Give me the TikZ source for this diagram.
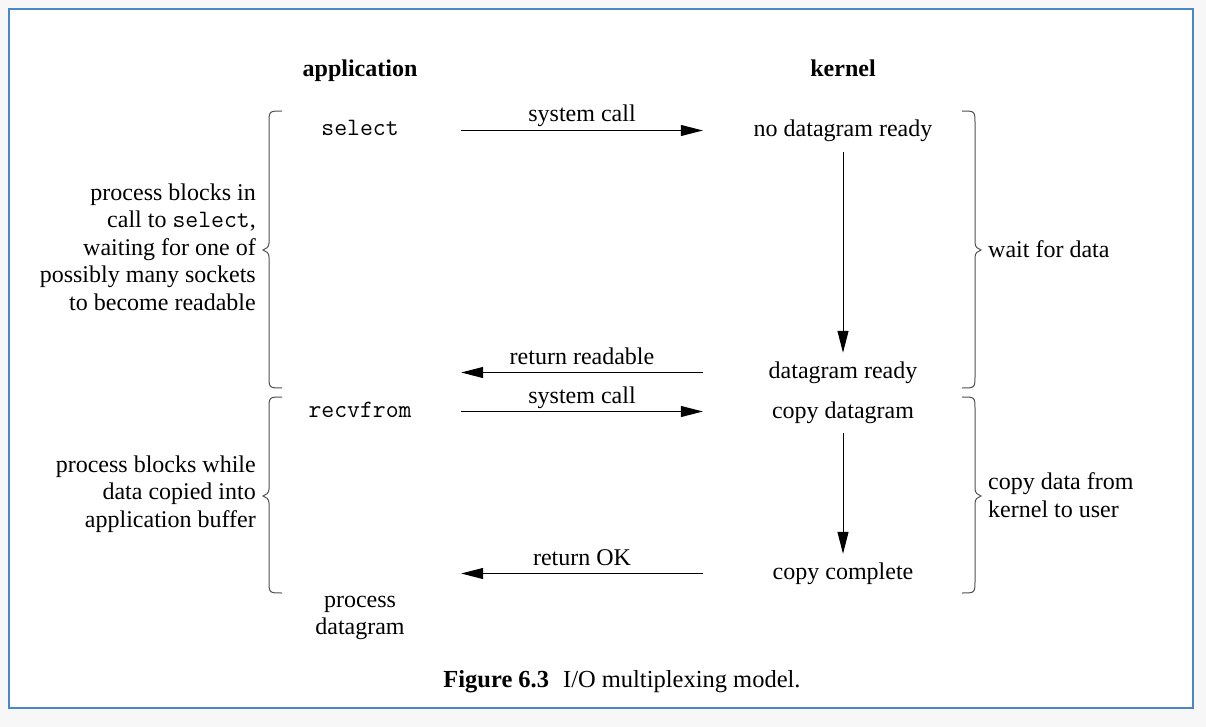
\documentclass[tikz,border=0pt]{standalone}
\usepackage{fontspec}
\setmainfont{Liberation Serif}
\usetikzlibrary{arrows.meta}
\newcommand\mytt[1]{{\fontsize{25}{27.6}\selectfont\ttfamily #1}}
\definecolor{frameblue}{HTML}{4A86C8}
\definecolor{bracegray}{HTML}{505050}
\begin{document}
\begin{tikzpicture}[x=1pt,y=-1pt,
  font=\fontsize{24}{27.6}\selectfont,
  txt/.style={inner sep=0pt, text height=16pt, text depth=5pt},
  appcol/.style={txt, minimum width=202pt},
  kercol/.style={txt, minimum width=280pt},
  mono/.style={font=\fontsize{25}{27.6}\selectfont\ttfamily},
  head/.style={inner sep=0pt, font=\fontsize{24}{27.6}\selectfont\bfseries},
  block/.style={inner sep=0pt},
  arr/.style={line width=1pt, -{Triangle[length=22pt,width=11pt]}},
  lbl/.style={anchor=base, inner sep=0pt, yshift=8.5pt},
  brc/.style={draw=bracegray, line width=1pt}
]
\useasboundingbox (0,0) rectangle (1206,727);
\fill[black!3] (0,0) rectangle (1206,727);
\fill[white] (9,9) rectangle (1193,708);
\draw[frameblue, line width=2pt] (9,9) rectangle (1193,708);

% headers
\node[head, anchor=base] (app) at (360,77) {application};
\node[head, anchor=base] (ker) at (843,77) {kernel};

% application column
\node[appcol, mono, anchor=base] (sel) at (360,136) {select};
\node[appcol, mono, anchor=base] (rcv) at (360,417) {recvfrom};
\node[block, align=center] (proc) at (360,618) {process\\datagram};

% kernel column
\node[kercol, anchor=base] (ndr) at (843,137) {no datagram ready};
\node[kercol, anchor=base] (drdy) at (843,378) {datagram ready};
\node[kercol, anchor=base] (cpd) at (843,418) {copy datagram};
\node[kercol, anchor=base] (cpc) at (843,579) {copy complete};

% horizontal arrows
\draw[arr] (sel.east) -- node[lbl] (l1) {system call} (sel.east -| ndr.west);
\draw[arr] (drdy.west) -- node[lbl] (l2) {return readable} (drdy.west -| sel.east);
\draw[arr] (rcv.east) -- node[lbl] (l3) {system call} (rcv.east -| cpd.west);
\draw[arr] (cpc.west) -- node[lbl] (l4) {return OK} (cpc.west -| rcv.east);

% vertical arrows
\draw[arr, shorten <=10pt, shorten >=9pt] (ndr.south) -- (drdy.north);
\draw[arr, shorten <=10pt, shorten >=9pt] (cpd.south) -- (cpc.north);

% left braces
\draw[brc] (282,111) .. controls (269,111) .. (269,124) -- (269,243)
  .. controls (269,247) and (266,249) .. (263,250) .. controls (266,251) and (269,253) .. (269,257)
  -- (269,375) .. controls (269,388) .. (282,388);
\draw[brc] (282,397) .. controls (269,397) .. (269,410) -- (269,489)
  .. controls (269,493) and (266,495) .. (263,496) .. controls (266,497) and (269,499) .. (269,503)
  -- (269,580) .. controls (269,593) .. (282,593);

% right braces
\draw[brc] (962,111) .. controls (975,111) .. (975,124) -- (975,243)
  .. controls (975,247) and (978,249) .. (981,250) .. controls (978,251) and (975,253) .. (975,257)
  -- (975,375) .. controls (975,388) .. (962,388);
\draw[brc] (962,397) .. controls (975,397) .. (975,410) -- (975,489)
  .. controls (975,493) and (978,495) .. (981,496) .. controls (978,497) and (975,499) .. (975,503)
  -- (975,580) .. controls (975,593) .. (962,593);

% brace texts
\node[block, align=right, anchor=east] (lt1) at (256,247)
  {process blocks in\\call to \mytt{select},\\waiting for one of\\possibly many sockets\\to become readable};
\node[block, align=right, anchor=east] (lt2) at (256,494)
  {process blocks while\\data copied into\\application buffer};
\node[block, align=left, anchor=west] (rt1) at (988,249) {wait for data};
\node[block, align=left, anchor=west] (rt2) at (988,495) {copy data from\\kernel to user};

% caption
\node[block, anchor=base, font=\fontsize{24.5}{27.6}\selectfont] (cap) at (622,687) {\textbf{Figure 6.3}\hspace{14pt}I/O multiplexing model.};
\end{tikzpicture}
\end{document}
